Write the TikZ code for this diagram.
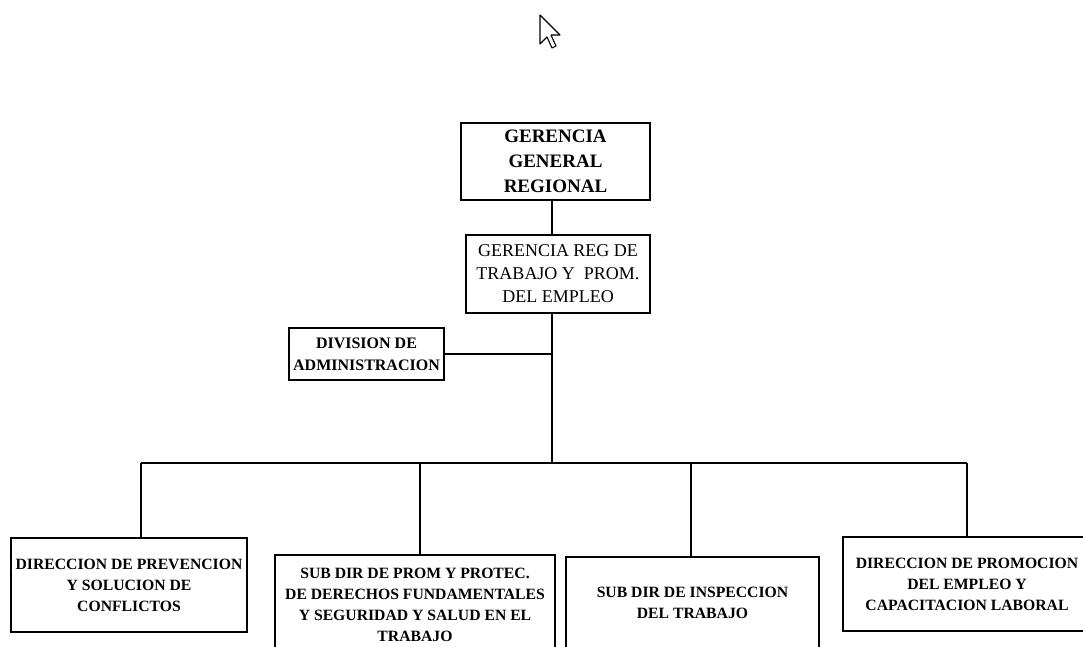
\documentclass[tikz,border=0pt]{standalone}
\usepackage{fontspec}
\setmainfont{Liberation Serif}
\begin{document}
\begin{tikzpicture}[x=1pt,y=-1pt,
  box/.style={draw, line width=1.3pt, inner sep=0pt, align=center},
  conn/.style={line width=1.3pt},
  small/.style={font=\fontsize{15.7}{21}\selectfont\bfseries},
]
\useasboundingbox (0,0) rectangle (1083,646);
\clip (0,0) rectangle (1083,646);
% cursor
\draw[line width=1.1pt, fill=white, line join=round]
  (540,15) -- (540,44) -- (547,37) -- (552,48) -- (556,46) -- (551,35) -- (560,35) -- cycle;
% boxes
\node[box, minimum width=189pt, minimum height=77pt, font=\fontsize{19}{25}\selectfont\bfseries]
  (gr) at (555.5,161.5) {GERENCIA\\GENERAL\\REGIONAL};
\node[box, minimum width=184pt, minimum height=78pt, font=\fontsize{18}{23}\selectfont]
  (grt) at (558,274) {GERENCIA REG DE\\TRABAJO Y\ \ PROM.\\DEL EMPLEO};
\node[box, minimum width=155pt, minimum height=52pt, font=\fontsize{16}{22}\selectfont\bfseries]
  (div) at (366.5,354) {DIVISION DE\\ADMINISTRACION};
\node[box, small, minimum width=236pt, minimum height=94pt]
  (b1) at (129,585) {DIRECCION DE PREVENCION\\Y SOLUCION DE\\CONFLICTOS};
\node[box, small, minimum width=280pt, minimum height=99pt]
  (b2) at (415,604.5) {SUB DIR DE PROM Y PROTEC.\\DE DERECHOS FUNDAMENTALES\\Y SEGURIDAD Y SALUD EN EL\\TRABAJO};
\node[box, small, minimum width=253pt, minimum height=92pt]
  (b3) at (692.5,603) {SUB DIR DE INSPECCION\\DEL TRABAJO};
\node[box, small, minimum width=248pt, minimum height=94pt]
  (b4) at (967,584) {DIRECCION DE PROMOCION\\DEL EMPLEO Y\\CAPACITACION LABORAL};
% connectors
\coordinate (spine) at (552,463);
\coordinate (busL) at (141,463);
\coordinate (bus2) at (420,463);
\coordinate (bus3) at (691,463);
\coordinate (busR) at (967,463);
\draw[conn] (gr.south -| spine) -- (grt.north -| spine);
\draw[conn] (grt.south -| spine) -- (spine);
\draw[conn] (div.east) -- (div.east -| spine);
\draw[conn] (busL) -- (busR);
\draw[conn] (busL) -- (busL |- b1.north);
\draw[conn] (bus2) -- (bus2 |- b2.north);
\draw[conn] (bus3) -- (bus3 |- b3.north);
\draw[conn] (busR) -- (busR |- b4.north);
\end{tikzpicture}
\end{document}
